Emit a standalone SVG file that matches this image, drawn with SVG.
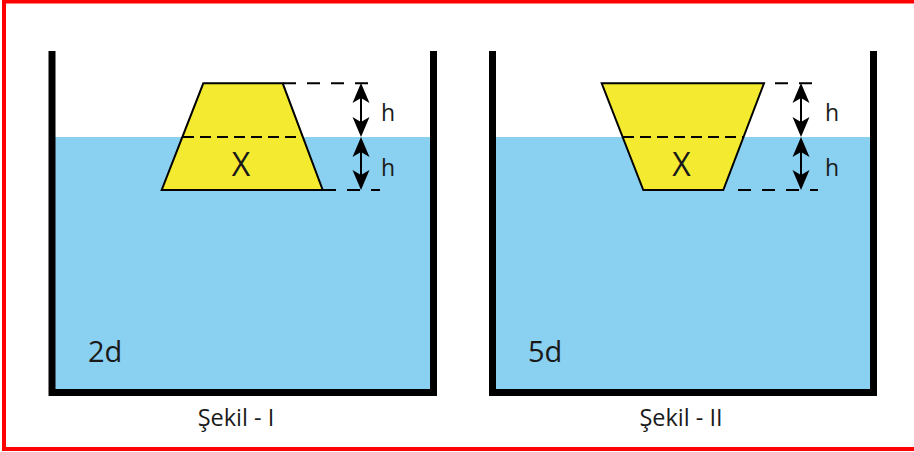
<svg xmlns="http://www.w3.org/2000/svg" width="914" height="452" viewBox="0 0 914 452">
  <style>
    .wall{fill:none;stroke:#000;stroke-width:7;stroke-linejoin:miter;stroke-linecap:butt}
    .water{fill:#8ad0f1}
    .block{fill:#f4eb31;stroke:#000;stroke-width:2;stroke-linejoin:miter}
    .dash{fill:none;stroke:#000;stroke-width:2}
    .dash-in{stroke-dasharray:11 6}
    .dash-ext{stroke-dasharray:13 11}
    .arrow{fill:none;stroke:#000;stroke-width:2;marker-start:url(#head);marker-end:url(#head)}
    text{font-family:"Open Sans","Noto Sans","Liberation Sans",sans-serif;fill:#1a1a1a}
    .lbl{font-size:23px}
    .big{font-size:32px}
    .dens{font-size:29px}
    .cap{font-size:23.5px}
  </style>
  <defs>
    <marker id="head" viewBox="-20 -9 21 18" markerWidth="21" markerHeight="18" refX="-4" refY="0" orient="auto-start-reverse" markerUnits="userSpaceOnUse">
      <path d="M0,0 L-20,-8.5 L-15,0 L-20,8.5 Z" fill="#000"/>
    </marker>
  </defs>

  <g id="frame">
    <rect x="4" y="1.5" width="940" height="447.5" fill="#fff" stroke="#ff0000" stroke-width="4"/>
  </g>

  <g id="container1">
    <rect class="water" x="52" y="137" width="381.5" height="255.5"/>
    <path class="wall" d="M52,51 V392.5 H433.5 V51"/>
  </g>

  <g id="container2">
    <rect class="water" x="492.5" y="137" width="381" height="255.5"/>
    <path class="wall" d="M492.5,51 V392.5 H873.5 V51"/>
  </g>

  <g id="block1">
    <polygon class="block" points="203.3,83.3 282.7,83.3 322.7,190 161.7,190"/>
    <line class="dash dash-in" x1="183" y1="137" x2="302" y2="137"/>
    <text class="big" x="241" y="176" text-anchor="middle">X</text>
  </g>

  <g id="block2">
    <polygon class="block" points="601.7,83.3 764,83.3 723.3,190 643.3,190"/>
    <line class="dash dash-in" x1="623" y1="137" x2="743" y2="137"/>
    <text class="big" x="681.5" y="176" text-anchor="middle">X</text>
  </g>

  <g id="connectors">
    <line class="dash dash-ext" x1="283" y1="83.3" x2="373" y2="83.3"/>
    <line class="dash dash-ext" x1="323" y1="190" x2="380" y2="190"/>
    <line class="arrow" x1="361" y1="87" x2="361" y2="133"/>
    <line class="arrow" x1="361" y1="141" x2="361" y2="186"/>

    <line class="dash dash-ext" x1="775" y1="83.3" x2="812" y2="83.3"/>
    <line class="dash dash-ext" x1="738" y1="190" x2="818" y2="190"/>
    <line class="arrow" x1="801" y1="87" x2="801" y2="133"/>
    <line class="arrow" x1="801" y1="141" x2="801" y2="186"/>
  </g>

  <g id="labels">
    <text class="lbl" x="381" y="121">h</text>
    <text class="lbl" x="381" y="176">h</text>
    <text class="lbl" x="825" y="121">h</text>
    <text class="lbl" x="825" y="176">h</text>
    <text class="dens" x="88" y="362">2d</text>
    <text class="dens" x="528" y="362">5d</text>
    <text class="cap" x="236" y="426" text-anchor="middle">Şekil - I</text>
    <text class="cap" x="681" y="426" text-anchor="middle">Şekil - II</text>
  </g>
</svg>
